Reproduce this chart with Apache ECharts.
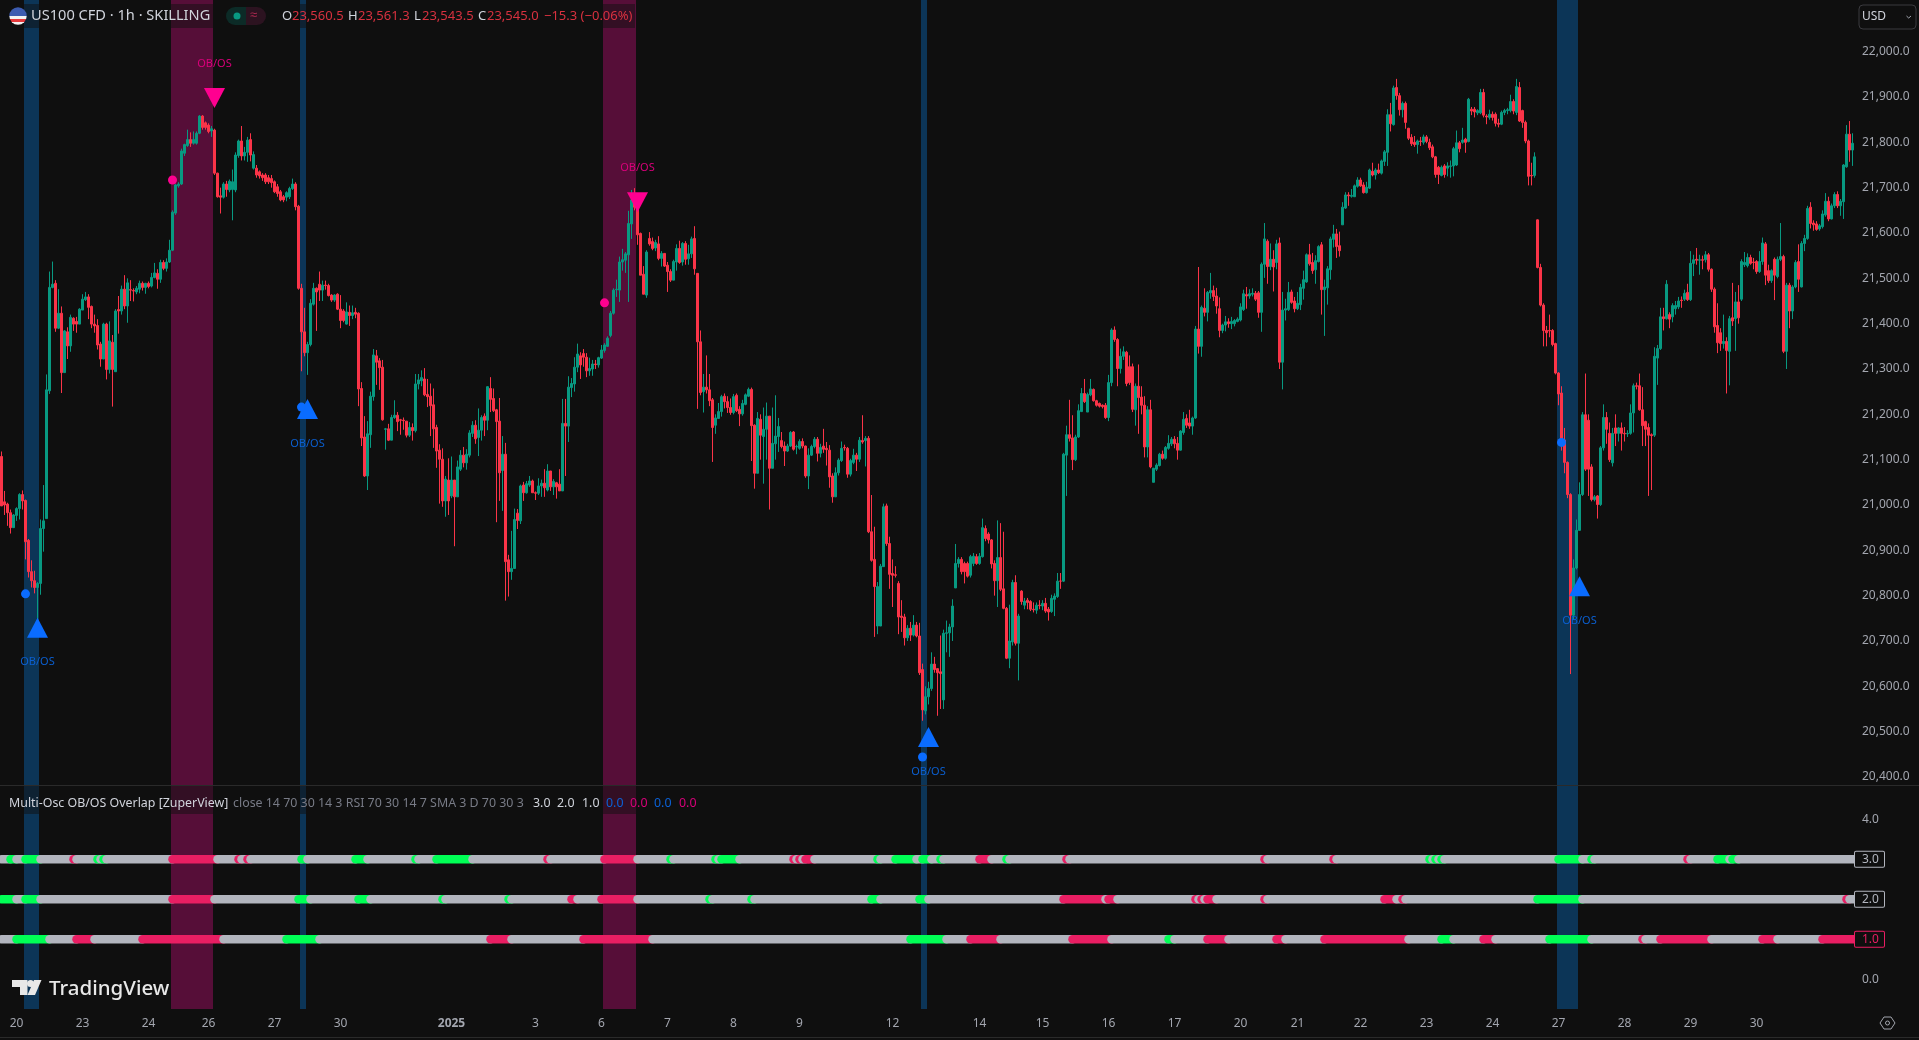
<!DOCTYPE html>
<html><head><meta charset="utf-8">
<style>html,body{margin:0;padding:0;background:#0f0f0f;overflow:hidden}#c{width:1919px;height:1040px}</style>
<script src="https://cdn.jsdelivr.net/npm/echarts@6/dist/echarts.min.js"></script>
</head><body><div id="c"></div>
<script>
// candles: [open, close, low, high], hourly, in bar order
const candlesDec20=[[21107,20998,20998,21118],[21007,21000,20978,21031],[21002,20983,20954,21005],[20983,20950,20937,20990],[20950,20978,20950,20980],[20977,20992,20965,20995],[20992,21023,20968,21026],[21023,21009,20990,21032],[21010,20919,20880,21012],[20922,20853,20840,20925],[20853,20833,20818,20878],[20833,20818,20805,20855],[20818,20827,20746,20830],[20827,20948,20802,20968],[20948,20965,20897,21044],[20970,21254,20970,21288],[21252,21480,21245,21515],[21480,21487,21478,21537],[21489,21390,21382,21496],[21390,21423,21388,21476],[21423,21292,21247,21438],[21292,21384,21292,21386],[21382,21351,21322,21392],[21351,21414,21338,21420],[21412,21399,21384,21414],[21405,21399,21380,21415],[21399,21432,21399,21434],[21430,21454,21430,21465],[21453,21459,21450,21470],[21459,21436,21410,21465],[21438,21399,21390,21440],[21399,21395,21380,21420],[21396,21353,21343,21410],[21355,21322,21305,21360],[21322,21399,21322,21402],[21399,21299,21277,21402],[21299,21362,21290,21405],[21359,21299,21217,21375],[21294,21428,21294,21432],[21431,21428,21378,21461],[21428,21476,21420,21484],[21476,21439,21432,21507],[21439,21490,21402,21500],[21475,21474,21450,21496],[21473,21472,21449,21478],[21470,21478,21465,21483],[21476,21489,21467,21495],[21489,21480,21473,21493],[21480,21489,21466,21490],[21489,21482,21478,21493],[21483,21502,21480,21512],[21502,21512,21500,21534],[21511,21498,21477,21520],[21498,21535,21490,21541],[21535,21522,21518,21540],[21522,21536,21515,21544],[21536,21562,21534,21585]];
const candlesDec26=[[21562,21646,21560,21650],[21644,21706,21640,21708],[21704,21708,21700,21712],[21708,21781,21706,21786],[21776,21795,21770,21797],[21793,21806,21790,21828],[21806,21798,21790,21822],[21798,21806,21795,21824],[21798,21820,21795,21824],[21820,21858,21818,21860],[21858,21833,21828,21860],[21843,21833,21828,21846],[21838,21824,21820,21842],[21825,21830,21812,21836],[21827,21732,21728,21830],[21732,21680,21678,21733],[21682,21679,21643,21700],[21679,21708,21676,21712],[21708,21696,21680,21715],[21695,21714,21690,21718],[21696,21713,21628,21740],[21695,21772,21690,21778],[21771,21803,21766,21806],[21803,21770,21760,21836],[21770,21778,21760,21790],[21778,21805,21757,21812],[21806,21772,21758,21820],[21743,21773,21740,21780],[21743,21728,21722,21750],[21735,21726,21720,21738],[21728,21722,21715,21732],[21728,21713,21708,21732],[21722,21713,21708,21728],[21720,21711,21700,21728],[21713,21691,21688,21716],[21702,21687,21680,21708],[21691,21673,21670,21695],[21680,21673,21668,21684],[21679,21689,21670,21692],[21680,21698,21675,21702],[21698,21708,21695,21720],[21708,21658,21650,21712],[21659,21478,21475,21662],[21478,21382,21295,21488],[21382,21336,21328,21435],[21336,21354,21287,21360],[21354,21445,21350,21454],[21443,21478,21440,21490],[21478,21470,21384,21480],[21487,21474,21450,21515],[21474,21485,21450,21495],[21485,21484,21475,21495],[21484,21462,21460,21488],[21463,21452,21448,21465],[21452,21463,21448,21465],[21465,21432,21430,21467],[21432,21407,21390,21463],[21428,21407,21403,21432],[21399,21426,21398,21447],[21425,21418,21395,21440],[21418,21424,21410,21440],[21425,21421,21412,21435]];
const candlesDec30=[[21423,21256,21218,21425],[21257,21148,21130,21271],[21150,21064,21062,21196],[21064,21157,21033,21185],[21155,21240,21126,21250],[21239,21331,21230,21344],[21329,21315,21265,21342],[21318,21303,21254,21324],[21304,21188,21186,21320],[21167,21168,21122,21170],[21168,21143,21141,21179],[21143,21193,21143,21199],[21193,21198,21190,21231],[21198,21184,21163,21205],[21188,21187,21155,21190],[21187,21186,21166,21193],[21185,21154,21149,21185],[21154,21171,21150,21183],[21171,21164,21142,21180],[21164,21267,21160,21289],[21267,21276,21255,21289],[21274,21281,21262,21297],[21278,21243,21240,21302],[21244,21239,21216,21278],[21240,21219,21152,21268],[21221,21168,21126,21257],[21171,21119,21082,21177],[21121,21101,21003,21134],[21101,21009,20996,21125],[21009,21057,20974,21064],[21055,21009,20978,21103],[21020,21055,21015,21107],[21055,21018,20909,21055],[21018,21084,21018,21098],[21079,21110,21075,21121],[21110,21093,21083,21128],[21093,21112,21078,21123],[21110,21159,21105,21165],[21158,21176,21150,21185],[21176,21146,21135,21187],[21149,21165,21108,21213],[21165,21193,21142,21198],[21196,21187,21152,21202],[21187,21261,21165,21262],[21257,21233,21205,21282],[21235,21208,21205,21257],[21210,21184,20962,21212],[21185,21071,21009,21236],[21076,21112,20987,21152],[21112,20875,20789,21137],[20879,20853,20798,20890],[20853,20860,20835,20943],[20860,20968,20860,20992],[20982,20966,20947,20991],[20965,21042,20958,21045],[21044,21027,21009,21051],[21027,21047,21025,21053],[21044,21053,21040,21064],[21053,21027,21027,21056],[21027,21026,21011,21030],[21026,21042,21022,21059],[21042,21048,21018,21056],[21048,21038,21018,21079],[21033,21075,21030,21090],[21075,21040,21031,21075],[21040,21052,21022,21057],[21049,21040,21014,21051],[21046,21031,21031,21079],[21031,21180,21031,21234],[21180,21174,21064,21234],[21174,21260,21139,21284],[21259,21268,21238,21280],[21267,21304,21250,21326],[21304,21333,21293,21356],[21329,21309,21278,21337],[21334,21326,21305,21344],[21326,21296,21282,21335],[21296,21301,21285,21325],[21300,21311,21285,21320],[21311,21310,21300,21320],[21309,21325,21303,21327],[21324,21342,21322,21353],[21341,21353,21336,21357],[21350,21368,21349,21372]];
const candlesJan6=[[21374,21423,21370,21428],[21423,21474,21420,21478],[21475,21476,21459,21497],[21474,21536,21448,21548],[21536,21541,21517,21565],[21540,21554,21512,21558],[21552,21621,21448,21649],[21620,21673,21587,21695],[21669,21657,21650,21699],[21657,21596,21574,21660],[21599,21507,21507,21601],[21509,21465,21465,21527],[21463,21558,21457,21562],[21588,21576,21572,21602],[21581,21566,21562,21590],[21567,21579,21560,21585],[21576,21544,21540,21593],[21544,21555,21526,21560],[21555,21527,21525,21555],[21529,21515,21470,21536],[21515,21496,21492,21520],[21496,21537,21496,21541],[21536,21566,21517,21575],[21566,21535,21532,21583],[21536,21577,21528,21580],[21577,21542,21530,21582],[21543,21554,21530,21574],[21554,21587,21545,21592],[21588,21521,21508,21615],[21511,21360,21212,21511],[21360,21248,21242,21385],[21250,21260,21204,21289],[21260,21254,21246,21330],[21254,21230,21218,21289],[21232,21171,21095,21236],[21176,21192,21157,21200],[21191,21206,21200,21225],[21206,21239,21195,21243],[21240,21228,21213,21246],[21228,21215,21203,21240],[21215,21204,21199,21235],[21204,21239,21200,21245],[21242,21208,21205,21246],[21211,21201,21174,21218],[21201,21224,21197,21232],[21222,21243,21220,21246],[21240,21255,21238,21259],[21255,21175,21097,21259],[21176,21070,21036,21178],[21070,21191,21070,21205],[21189,21154,21100,21200],[21151,21167,21047,21215],[21167,21196,21100,21226],[21196,21081,20990,21196],[21081,21136,21081,21215],[21135,21152,21100,21242],[21151,21173,21117,21192],[21142,21129,21125,21161],[21130,21119,21086,21140],[21119,21130,21117,21135],[21130,21160,21128,21163],[21161,21123,21120,21163],[21128,21129,21112,21133],[21125,21140,21122,21145],[21140,21130,21125,21147],[21130,21064,21060,21131],[21064,21110,21035,21125],[21110,21129,21108,21133],[21129,21145,21125,21150],[21145,21114,21096,21150],[21114,21127,21105,21135],[21130,21123,21115,21168],[21125,21122,21087,21139],[21121,21062,21038,21132],[21064,21018,21005,21070],[21018,21071,21018,21083],[21071,21099,21065,21103],[21098,21125,21095,21140],[21127,21126,21120,21133],[21125,21068,21060,21128],[21068,21098,21063,21102],[21094,21110,21090,21124],[21110,21101,21075,21115],[21101,21143,21095,21150],[21142,21139,21135,21198],[21142,21147,21085,21152],[21147,20941,20938,21152]];
const candlesJan10=[[20941,20878,20875,21022],[20880,20820,20709,20952],[20733,20820,20715,20830],[20733,20865,20733,20870],[20864,20996,20864,21003],[20998,20915,20910,21003],[20915,20847,20815,20930],[20849,20845,20775,20880],[20846,20845,20840,20865],[20827,20753,20715,20832],[20755,20752,20720,20790],[20753,20707,20690,20760],[20707,20728,20700,20735],[20728,20713,20700,20742],[20713,20735,20710,20757],[20735,20711,20708,20742],[20711,20630,20625,20740],[20637,20548,20524,20650],[20546,20577,20538,20600],[20577,20595,20560,20610],[20595,20649,20590,20675],[20649,20637,20630,20665],[20639,20630,20535,20640],[20632,20628,20550,20712],[20570,20717,20550,20725],[20717,20718,20675,20745],[20718,20731,20665,20738],[20731,20777,20700,20792],[20817,20871,20817,20914],[20871,20880,20862,20885],[20880,20853,20847,20885],[20871,20853,20827,20875],[20871,20843,20840,20875],[20845,20886,20840,20890],[20871,20887,20865,20894],[20886,20871,20868,20892],[20871,20887,20868,20894],[20886,20950,20884,20970],[20948,20926,20920,20955],[20936,20923,20915,20940],[20923,20870,20860,20925],[20871,20833,20800,20878],[20833,20884,20775,20966],[20884,20814,20810,20960],[20815,20772,20770,20941],[20772,20662,20660,20775],[20662,20700,20640,20780],[20698,20829,20690,20835],[20829,20695,20690,20845],[20695,20755,20613,20760],[20810,20787,20780,20812],[20779,20788,20770,20795],[20790,20785,20770,20795],[20787,20770,20766,20790],[20770,20769,20763,20785],[20768,20779,20760,20785],[20779,20778,20770,20790],[20777,20783,20768,20790],[20783,20766,20762,20795],[20770,20764,20745,20775],[20765,20794,20762,20802],[20792,20799,20755,20805],[20798,20832,20795,20850],[20832,20832,20815,20850],[20832,21112,20830,21115],[21110,21155,21020,21175],[21155,21147,21140,21232],[21148,21100,21077,21198],[21100,21150,21097,21155],[21150,21208,21148,21222],[21206,21246,21205,21258],[21246,21228,21225,21278],[21205,21244,21205,21248],[21243,21256,21240,21278],[21255,21230,21228,21257],[21230,21220,21217,21232],[21224,21218,21215,21226],[21220,21217,21213,21222],[21220,21193,21190,21225],[21193,21270,21185,21287],[21270,21386,21262,21390],[21386,21365,21360,21394],[21365,21301,21262,21368],[21301,21328,21290,21345],[21328,21338,21320,21350],[21337,21268,21262,21340],[21305,21270,21265,21330],[21305,21211,21205,21312],[21210,21262,21175,21268],[21262,21237,21157,21310],[21238,21220,21200,21262],[21220,21128,21105,21240],[21128,21210,21105,21218],[21210,21084,21081,21232],[21050,21081,21050,21082],[21079,21088,21075,21092],[21087,21112,21085,21115],[21112,21103,21100,21120],[21103,21127,21100,21130],[21125,21136,21122,21154],[21135,21145,21130,21150],[21145,21135,21125,21152],[21136,21121,21100,21150],[21121,21163,21120,21165],[21160,21189,21155,21205],[21191,21176,21170,21200],[21181,21174,21168,21210],[21174,21192,21155,21195],[21192,21388,21190,21395]];
const candlesJan17=[[21388,21350,21334,21525],[21350,21436,21327,21440],[21434,21425,21416,21478],[21425,21469,21405,21472],[21468,21473,21455,21512],[21473,21460,21450,21484],[21461,21439,21422,21479],[21433,21385,21370,21458],[21385,21397,21379,21400],[21397,21404,21383,21417],[21404,21400,21391,21412],[21400,21405,21388,21415],[21400,21407,21394,21410],[21405,21410,21403,21414],[21408,21437,21405,21445],[21431,21466,21428,21475],[21464,21461,21433,21481],[21461,21466,21455,21476],[21465,21467,21460,21478],[21467,21454,21450,21472],[21468,21425,21413,21472],[21425,21531,21382,21535],[21531,21587,21501,21622],[21582,21526,21488,21586],[21526,21542,21518,21577],[21542,21525,21471,21562],[21535,21576,21520,21585],[21578,21315,21300,21590],[21315,21430,21255,21470],[21430,21433,21407,21455],[21431,21469,21428,21492],[21470,21447,21444,21475],[21450,21433,21425,21459],[21433,21445,21430,21470],[21442,21480,21430,21488],[21478,21497,21453,21517],[21492,21552,21490,21555],[21552,21532,21528,21576],[21535,21517,21510,21556],[21519,21539,21488,21551],[21537,21570,21535,21573],[21574,21475,21420,21580],[21475,21481,21373,21497],[21479,21521,21442,21527],[21519,21587,21497,21592],[21586,21598,21568,21618],[21598,21570,21545,21609],[21572,21561,21548,21603],[21618,21657,21618,21668],[21655,21684,21653,21690],[21684,21682,21660,21690],[21681,21683,21678,21697],[21680,21704,21680,21707],[21703,21717,21700,21723],[21717,21704,21702,21722],[21706,21689,21687,21712],[21689,21701,21687,21713],[21699,21739,21697,21742],[21736,21728,21725,21755],[21728,21739,21718,21743],[21739,21733,21730,21753],[21732,21759,21729,21762],[21758,21779,21748,21783],[21778,21861,21748,21873],[21861,21841,21824,21887],[21839,21920,21837,21925],[21921,21903,21894,21940],[21903,21872,21859,21909],[21872,21886,21855,21890],[21886,21844,21830,21890],[21831,21809,21805,21832],[21811,21797,21792,21818],[21800,21795,21790,21814],[21795,21803,21775,21806],[21803,21802,21792,21812]];
const candlesJan23=[[21800,21812,21795,21817],[21812,21802,21798,21816],[21800,21788,21783,21808],[21790,21768,21765,21795],[21768,21729,21722,21770],[21745,21729,21708,21748],[21727,21745,21725,21749],[21748,21729,21722,21752],[21743,21748,21725,21756],[21747,21748,21722,21760],[21748,21786,21725,21790],[21750,21799,21748,21826],[21799,21786,21778,21803],[21800,21805,21797,21832],[21807,21800,21777,21810],[21802,21895,21800,21898],[21873,21869,21860,21878],[21873,21867,21855,21878],[21865,21870,21860,21873],[21865,21910,21862,21918],[21910,21860,21855,21918],[21858,21856,21840,21862],[21855,21862,21850,21872],[21862,21855,21848,21868],[21862,21842,21835,21866],[21842,21840,21833,21852],[21840,21866,21838,21870],[21866,21870,21860,21874],[21870,21872,21862,21876],[21870,21890,21866,21905],[21890,21869,21862,21895],[21866,21923,21860,21940],[21921,21847,21845,21933],[21870,21844,21832,21872],[21844,21803,21798,21848],[21803,21725,21705,21806],[21727,21726,21705,21755],[21727,21768,21722,21778]];
const candlesJan27=[[21629,21524,21522,21630],[21524,21441,21438,21532],[21441,21385,21350,21445],[21385,21380,21350,21395],[21385,21384,21370,21420],[21385,21354,21350,21388],[21356,21291,21288,21358],[21291,21245,21220,21293],[21247,21141,21120,21262],[21143,21094,21070,21170],[21094,21023,21015,21096],[21023,20757,20627,21026],[20757,20861,20748,20880],[20861,20944,20858,20968],[20944,21023,20968,21050],[21023,21199,21020,21205],[21199,21079,21075,21290],[21187,21079,21020,21200],[21084,21012,21008,21090],[21012,21018,21008,21022],[21020,21001,20970,21022],[21001,21126,20998,21130],[21126,21193,21120,21222],[21193,21167,21135,21205],[21158,21100,21095,21182],[21093,21158,21085,21170],[21170,21158,21130,21200],[21158,21170,21140,21172],[21170,21158,21120,21182],[21158,21157,21140,21172],[21157,21158,21150,21165],[21158,21203,21155,21222],[21203,21263,21160,21268],[21263,21262,21255,21270],[21263,21210,21208,21290],[21210,21175,21130,21260],[21184,21167,21130,21186],[21171,21154,21020,21180],[21155,21153,21033,21158],[21154,21328,21150,21348],[21324,21345,21265,21353],[21345,21415,21342,21435],[21415,21411,21385,21435],[21411,21487,21409,21496],[21420,21410,21390,21425],[21415,21440,21403,21445],[21433,21440,21420,21450],[21437,21450,21432,21459],[21452,21451,21435,21460],[21454,21467,21450,21475],[21469,21453,21450,21488],[21453,21533,21450,21560],[21533,21541,21505,21552],[21542,21540,21530,21567],[21540,21541,21508,21552],[21541,21540,21520,21550],[21541,21552,21535,21560],[21552,21520,21515,21556],[21520,21476,21470,21522],[21476,21393,21380,21480],[21396,21358,21335,21445],[21380,21356,21340,21390],[21356,21361,21345,21420],[21361,21341,21246,21370],[21339,21411,21264,21417],[21413,21406,21395,21490],[21411,21448,21340,21470],[21448,21413,21400,21485],[21454,21537,21450,21542],[21530,21535,21525,21558],[21528,21546,21524,21555],[21546,21533,21530,21552],[21536,21535,21520,21545],[21537,21515,21510,21540],[21515,21537,21512,21560],[21537,21578,21530,21590],[21576,21507,21485,21580],[21517,21495,21490,21530],[21495,21517,21490,21520],[21542,21507,21452,21546],[21504,21542,21500,21548],[21542,21548,21538,21622],[21548,21339,21335,21552],[21339,21485,21300,21490],[21485,21428,21390,21490],[21428,21481,21410,21485],[21481,21535,21478,21540],[21537,21498,21470,21575],[21481,21577,21480,21582],[21577,21588,21560,21596],[21588,21654,21585,21660],[21657,21621,21610,21668],[21622,21618,21605,21628],[21620,21608,21605,21626],[21609,21616,21605,21620],[21614,21642,21610,21650],[21640,21670,21636,21688],[21670,21631,21626,21680],[21631,21660,21630,21665],[21660,21685,21655,21690],[21685,21660,21655,21692],[21660,21670,21638,21675],[21669,21750,21631,21752],[21746,21818,21744,21838],[21818,21783,21757,21847],[21783,21798,21748,21820]];

const candles=[].concat(candlesDec20,candlesDec26,candlesDec30,candlesJan6,candlesJan10,candlesJan17,candlesJan23,candlesJan27);

// time axis labels: bar index and text
const tickIndex=[5,27,49,69,91,113,150,178,200,222,244,266,297,326,347,369,391,413,432,453,475,497,519,541,563,585];
const tickLabels=['20','23','24','26','27','30','2025','3','6','7','8','9','12','14','15','16','17','20','21','22','23','24','27','28','29','30'];
const priceTicks=[20400,20500,20600,20700,20800,20900,21000,21100,21200,21300,21400,21500,21600,21700,21800,21900,22000];
const oscTicks=[0,1,2,3,4];

// highlighted zones: [first bar, last bar, kind]
const zones=[[8,12,'os'],[57,70,'ob'],[100,101,'os'],[201,211,'ob'],[307,308,'os'],[519,525,'os']];
// signal markers: [bar, price]
const upSignals=[[12,20729],[102,21212],[309,20488],[526,20821]];
const downSignals=[[71,21898],[212,21668]];
const osDots=[[8,20804],[100,21216],[307,20444],[520,21138]];
const obDots=[[57,21717],[201,21446]];

// overlap rows: [first bar, last bar, state]  g = oversold, r = overbought
const row3=[[3,5,'g'],[8,13,'g'],[24,25,'r'],[32,33,'g'],[34,35,'g'],[57,72,'r'],[79,80,'r'],[82,83,'r'],[100,102,'g'],[118,122,'g'],[138,139,'g'],[145,157,'g'],[182,183,'r'],[201,212,'r'],[223,224,'g'],[238,239,'g'],[240,246,'g'],[264,265,'r'],[266,267,'r'],[268,269,'r'],[269,271,'r'],[292,293,'g'],[298,305,'g'],[307,310,'g'],[313,314,'g'],[326,330,'r'],[335,336,'g'],[355,356,'r'],[421,422,'r'],[444,445,'r'],[476,477,'g'],[478,479,'g'],[480,481,'g'],[519,527,'g'],[530,531,'g'],[562,563,'r'],[572,576,'g'],[577,579,'g']];
const row2=[[0,5,'g'],[8,13,'g'],[57,71,'r'],[99,103,'g'],[119,123,'g'],[147,148,'g'],[169,170,'g'],[190,192,'r'],[200,212,'r'],[236,237,'g'],[250,251,'g'],[290,293,'g'],[306,309,'g'],[354,368,'r'],[369,372,'r'],[398,399,'r'],[400,401,'r'],[402,405,'r'],[421,422,'r'],[461,465,'r'],[467,468,'r'],[512,527,'g'],[615,616,'r']];
const row1=[[5,16,'g'],[25,31,'r'],[47,74,'r'],[95,106,'g'],[163,170,'r'],[194,217,'r'],[303,315,'g'],[323,333,'r'],[357,370,'r'],[389,391,'g'],[402,409,'r'],[425,428,'r'],[441,469,'r'],[480,484,'g'],[494,498,'r'],[516,530,'g'],[547,548,'r'],[553,570,'r'],[587,592,'r'],[607,618,'r']];

const F='"Noto Sans",sans-serif';
const BG='#0f0f0f',GREEN='#089981',RED='#fb3448',AXIS='#a3a6af',LITE='#d1d4dc',MUTE='#787b86';
const BLUE='#0a6cff',PINK='#ff0090';
const stateColor={g:'#00ff55',r:'#e91e63',n:'#b2b5be'};
const zoneColor={os:'#0c3557',ob:'#560e38'};

const N=candles.length;
const categories=candles.map((_,i)=>String(i));
const tickMap={};tickIndex.forEach((b,k)=>tickMap[b]=tickLabels[k]);

function rowItems(spans,level){
  const out=[];let prev=0;
  spans.forEach(s=>{
    if(s[0]>prev) out.push([prev,s[0],level,'n']);
    out.push([s[0],s[1],level,s[2]]);
    prev=s[1];
  });
  out.push([prev,N,level,'n']);
  return out;
}
const overlapData=[].concat(rowItems(row3,3),rowItems(row2,2),rowItems(row1,1));

function zoneRender(params,api){
  const band=api.size([1,0])[0];
  const z=zones[params.dataIndex];
  const a=api.coord([z[0],0])[0]-band/2, b=api.coord([z[1],0])[0]+band/2;
  const cs=params.coordSys;
  return {type:'rect',shape:{x:a,y:cs.y,width:b-a,height:cs.height},style:{fill:zoneColor[z[2]]},silent:true};
}
function scatter(data,opt){
  return Object.assign({type:'scatter',xAxisIndex:0,yAxisIndex:0,data,silent:true,z:6},opt);
}
const obos=(pos,color)=>({show:true,formatter:'OB/OS',position:pos,distance:19,color,fontFamily:F,fontSize:11});

const T=(text,x,y,fill,size,extra)=>({type:'text',z:100,silent:true,style:Object.assign({text,x,y,fill,font:(size||12)+'px '+F,align:'left',verticalAlign:'middle'},extra||{})});

const graphics=[
  // legend tints
  {type:'rect',z:90,silent:true,shape:{x:18,y:4,width:617,height:24},style:{fill:'rgba(15,15,15,.5)'}},
  {type:'rect',z:90,silent:true,shape:{x:5,y:786,width:700,height:28},style:{fill:'rgba(15,15,15,.5)'}},
  // separators
  {type:'rect',z:95,silent:true,shape:{x:0,y:785,width:1919,height:1},style:{fill:'#2a2a2a'}},
  {type:'rect',z:95,silent:true,shape:{x:0,y:1037,width:1919,height:1},style:{fill:'#2a2a2a'}},
  // flag
  {type:'circle',z:100,silent:true,shape:{cx:18,cy:16,r:8.7},style:{fill:{type:'linear',x:0,y:0,x2:0,y2:1,colorStops:[{offset:0,color:'#3c5bb0'},{offset:.52,color:'#3c5bb0'},{offset:.52,color:'#f2f2f2'},{offset:.68,color:'#f2f2f2'},{offset:.68,color:'#e5383b'},{offset:.84,color:'#e5383b'},{offset:.84,color:'#f2f2f2'},{offset:1,color:'#f2f2f2'}]}}},
  T('US100 CFD · 1h · SKILLING',31,16,LITE,14.6),
  // status pill
  {type:'rect',z:100,silent:true,shape:{x:226,y:7,width:20,height:18,r:[9,0,0,9]},style:{fill:'#0c2b27'}},
  {type:'rect',z:100,silent:true,shape:{x:246,y:7,width:20,height:18,r:[0,9,9,0]},style:{fill:'#2c1320'}},
  {type:'circle',z:101,silent:true,shape:{cx:237,cy:16,r:3.5},style:{fill:GREEN}},
  T('≈',250,15,'#b02a52',13),
  T('O',282,16,LITE,13),T('23,560.5',292,16,'#d8313f',13),
  T('H',348,16,LITE,13),T('23,561.3',358,16,'#d8313f',13),
  T('L',414,16,LITE,13),T('23,543.5',422,16,'#d8313f',13),
  T('C',478,16,LITE,13),T('23,545.0',487,16,'#d8313f',13),
  T('−15.3 (−0.06%)',544,16,'#d8313f',13),
  // indicator legend
  T('Multi-Osc OB/OS Overlap [ZuperView]',9,803,LITE,12.4),
  T('close 14 70 30 14 3 RSI 70 30 14 7 SMA 3 D 70 30 3',233,803,MUTE,12.4),
  T('3.0',533,803,LITE,12.4),T('2.0',557,803,LITE,12.4),T('1.0',582,803,LITE,12.4),
  T('0.0',606,803,'#0b62d8',12.4),T('0.0',630,803,'#d9007a',12.4),T('0.0',654,803,'#0b62d8',12.4),T('0.0',679,803,'#d9007a',12.4),
  // TradingView mark
  {type:'polygon',z:100,silent:true,shape:{points:[[12,980],[27.5,980],[27.5,995],[20,995],[20,987],[12,987]]},style:{fill:'#e8e8e8'}},
  {type:'circle',z:100,silent:true,shape:{cx:30.5,cy:983.5,r:3.5},style:{fill:'#e8e8e8'}},
  {type:'polygon',z:100,silent:true,shape:{points:[[34,980],[41.5,980],[35,995],[27.5,995]]},style:{fill:'#e8e8e8'}},
  T('TradingView',49,989,'#e8e8e8',21,{font:'500 20.5px '+F}),
  // currency button
  {type:'rect',z:100,silent:true,shape:{x:1859,y:5,width:57,height:24,r:4},style:{fill:'none',stroke:'#3a3a3e',lineWidth:1}},
  T('USD',1862,17,LITE,12),
  {type:'polyline',z:100,silent:true,shape:{points:[[1906.5,16],[1908.7,18],[1911,16]]},style:{fill:'none',stroke:AXIS,lineWidth:1}},
  // settings
  {type:'polygon',z:100,silent:true,shape:{points:[[1880,1023],[1884,1017],[1891,1017],[1895,1023],[1891,1029],[1884,1029]]},style:{fill:'none',stroke:AXIS,lineWidth:1}},
  {type:'circle',z:100,silent:true,shape:{cx:1887.5,cy:1023,r:2},style:{fill:'none',stroke:AXIS,lineWidth:1}}
];

const chart=echarts.init(document.getElementById('c'),null,{renderer:'canvas',width:1919,height:1040});
const gridW=1854;
const axisLabelBase={fontFamily:F,fontSize:12,color:AXIS};
chart.setOption({
  animation:false,
  backgroundColor:BG,
  grid:[
    {left:0,top:0,width:gridW,height:785,containLabel:false},
    {left:0,top:786,width:gridW,height:223,containLabel:false}
  ],
  xAxis:[
    {type:'category',gridIndex:0,data:categories,show:false,boundaryGap:true},
    {type:'category',gridIndex:1,data:categories,boundaryGap:true,
     axisLine:{show:false},axisTick:{show:false},splitLine:{show:false},
     axisLabel:{...axisLabelBase,margin:9,interval:(i)=>i in tickMap,
       formatter:(v)=>{const t=tickMap[v];return t==='2025'?'{b|2025}':(t||'');},
       rich:{b:{fontFamily:F,fontSize:12,fontWeight:'bold',color:AXIS}}}}
  ],
  yAxis:[
    {type:'value',gridIndex:0,position:'right',min:20382.3,max:22114,
     axisLine:{show:false},axisTick:{show:false},splitLine:{show:false},
     axisLabel:{...axisLabelBase,margin:8,align:'left',padding:[5,0,0,0],showMinLabel:true,showMaxLabel:true,customValues:priceTicks,
       formatter:(v)=>Number(v).toLocaleString('en-US',{minimumFractionDigits:1,maximumFractionDigits:1})}},
    {type:'value',gridIndex:1,position:'right',min:-0.7425,max:4.8325,
     axisLine:{show:false},axisTick:{show:false},splitLine:{show:false},
     axisLabel:{...axisLabelBase,margin:1,align:'left',customValues:oscTicks,
       formatter:(v)=>{const n=Number(v);const s=n.toFixed(1);return (n>=1&&n<=3)?(n===1?'{p|'+s+'}':'{b|'+s+'}'):'{t|'+s+'}';},
       rich:{
         t:{padding:[0,0,0,7],fontFamily:F,fontSize:12,color:AXIS},
         b:{width:22,height:15,padding:[0,0,0,7],borderColor:'#b2b5be',borderWidth:1,borderRadius:1,fontFamily:F,fontSize:12,color:'#b2b5be',backgroundColor:BG},
         p:{width:22,height:15,padding:[0,0,0,7],borderColor:'#e91e63',borderWidth:1,borderRadius:1,fontFamily:F,fontSize:12,color:'#e91e63',backgroundColor:BG}
       }}}
  ],
  series:[
    {type:'custom',name:'zones top',xAxisIndex:0,yAxisIndex:0,data:zones.map(z=>[z[0],z[1]]),renderItem:zoneRender,encode:{x:[0,1]},z:1,silent:true},
    {type:'custom',name:'zones bottom',xAxisIndex:1,yAxisIndex:1,data:zones.map(z=>[z[0],z[1]]),renderItem:zoneRender,encode:{x:[0,1]},z:1,silent:true},
    {type:'candlestick',name:'US100',xAxisIndex:0,yAxisIndex:0,data:candles,large:false,progressive:0,barWidth:2,z:3,silent:true,
     itemStyle:{color:GREEN,color0:RED,borderColor:GREEN,borderColor0:RED,borderColorDoji:RED,borderWidth:1}},
    {type:'custom',name:'overlap',xAxisIndex:1,yAxisIndex:1,data:overlapData.map(d=>[d[0],d[1],d[2]]),clip:true,silent:true,z:4,encode:{x:[0,1],y:2},
     renderItem:(params,api)=>{
       const d=overlapData[params.dataIndex];
       const p1=api.coord([d[0],d[2]]),p2=api.coord([d[1],d[2]]);
       return {type:'line',shape:{x1:p1[0],y1:p1[1],x2:p2[0],y2:p2[1]},style:{stroke:stateColor[d[3]],lineWidth:8.5,lineCap:'round',fill:null}};
     }},
    scatter(upSignals,{symbol:'triangle',symbolSize:[21,20],itemStyle:{color:BLUE,opacity:1},label:obos('bottom','#0b5fd0')}),
    scatter(downSignals,{symbol:'triangle',symbolRotate:180,symbolSize:[21,20],itemStyle:{color:PINK,opacity:1},label:obos('top','#d9007a')}),
    scatter(osDots,{symbol:'circle',symbolSize:9,itemStyle:{color:BLUE,opacity:1}}),
    scatter(obDots,{symbol:'circle',symbolSize:9,itemStyle:{color:PINK,opacity:1}})
  ],
  graphic:graphics
});
</script></body></html>
